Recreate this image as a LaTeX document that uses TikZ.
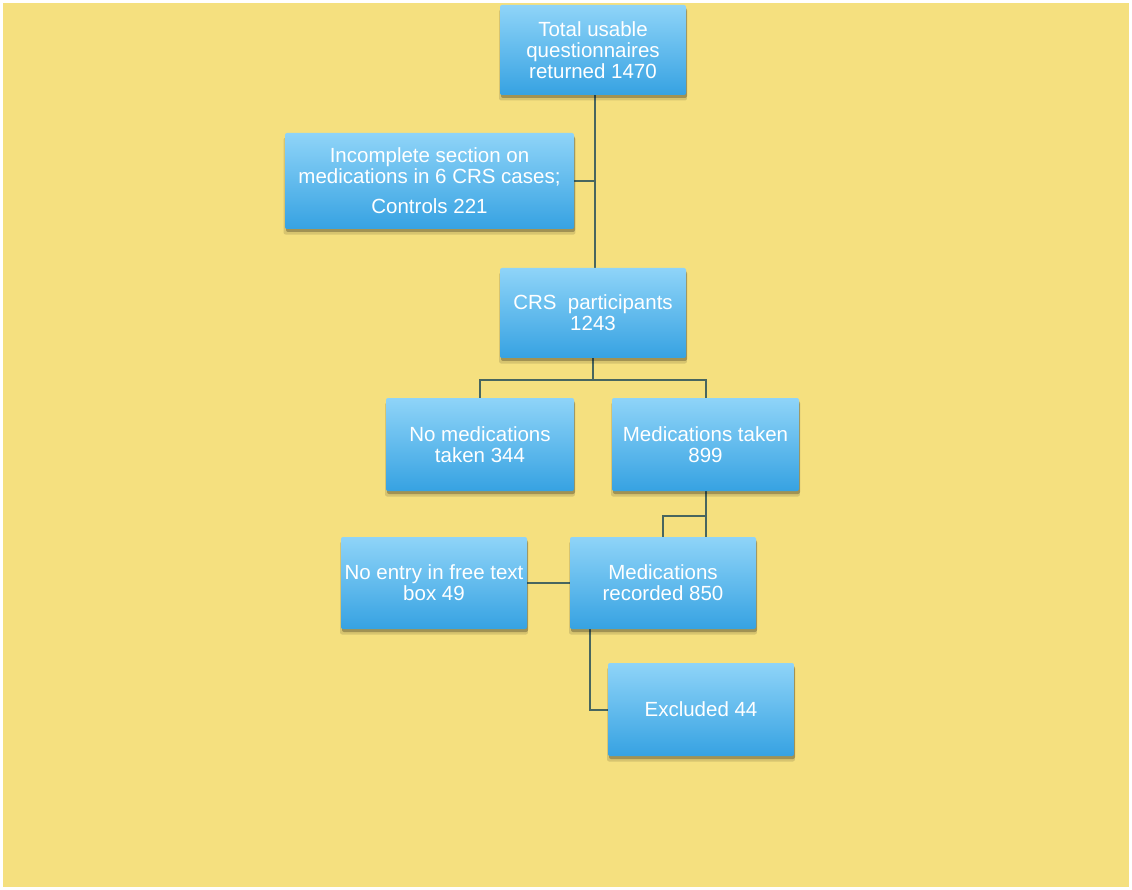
\documentclass[tikz,border=0pt]{standalone}
\usepackage{fontspec}
\setmainfont{Liberation Sans}
\usetikzlibrary{shadows,positioning}
\definecolor{bgyellow}{HTML}{F5E07F}
\definecolor{boxtop}{HTML}{8FD4F8}
\definecolor{boxbot}{HTML}{36A2E2}
\definecolor{linecol}{HTML}{48665F}
\pgfdeclarelayer{back}
\pgfdeclarelayer{lines}
\pgfsetlayers{back,lines,main}
\tikzset{
  flowbox/.style={rectangle, rounded corners=2pt, top color=boxtop, bottom color=boxbot,
    draw=none, text=white, align=center, inner sep=0pt,
    font=\fontsize{20.5}{21}\selectfont,
    drop shadow={shadow xshift=0pt, shadow yshift=-5pt, shadow scale=1.01, opacity=0.12, fill=black},
    drop shadow={shadow xshift=1pt, shadow yshift=-3pt, opacity=0.25, fill=black}},
  conn/.style={draw=linecol, line width=2pt}
}
\begin{document}
\begin{tikzpicture}[x=1pt,y=-1pt]
\begin{pgfonlayer}{back}
\fill[white] (0,0) rectangle (1132,890);
\fill[bgyellow] (3,3) rectangle (1129,887);
\end{pgfonlayer}
\useasboundingbox (0,0) rectangle (1132,890);

\node[flowbox, minimum width=186pt, minimum height=90pt] (top) at (593,50)
  {Total usable\\questionnaires\\returned 1470};
\node[flowbox, minimum width=289pt, minimum height=96pt] (inc) at (429.5,181)
  {Incomplete section on\\medications in 6 CRS cases;\\[9pt]Controls 221};
\node[flowbox, minimum width=186pt, minimum height=90pt] (crs) at (593,313)
  {CRS\ \ participants\\1243};
\node[flowbox, minimum width=188pt, minimum height=93pt] (nomed) at (480,444.5)
  {No medications\\taken 344};
\node[flowbox, minimum width=187pt, minimum height=93pt] (medtk) at (705.5,444.5)
  {Medications taken\\899};
\node[flowbox, minimum width=186pt, minimum height=92pt] (noent) at (434,583)
  {No entry in free text\\box 49};
\node[flowbox, minimum width=186pt, minimum height=92pt] (medrec) at (663,583)
  {Medications\\recorded 850};
\node[flowbox, minimum width=186pt, minimum height=93pt] (excl) at (701,709.5)
  {Excluded 44};

\coordinate (trunk) at ([xshift=2pt]top.south);
\begin{pgfonlayer}{lines}
\draw[conn] (trunk) -- (trunk |- crs.north);
\draw[conn] (inc.east) -- (inc.east -| trunk);
\draw[conn] (crs.south) -- ++(0,22) coordinate (split) -| (nomed.north);
\draw[conn] (split) -| (medtk.north);
\draw[conn] (medtk.south) -- (medtk.south |- medrec.north);
\draw[conn] (medtk.south) -- ++(0,25) -| (medrec.north);
\draw[conn] (noent.east) -- (medrec.west);
\draw[conn] ([xshift=-73pt]medrec.south) |- (excl.west);
\end{pgfonlayer}
\end{tikzpicture}
\end{document}
